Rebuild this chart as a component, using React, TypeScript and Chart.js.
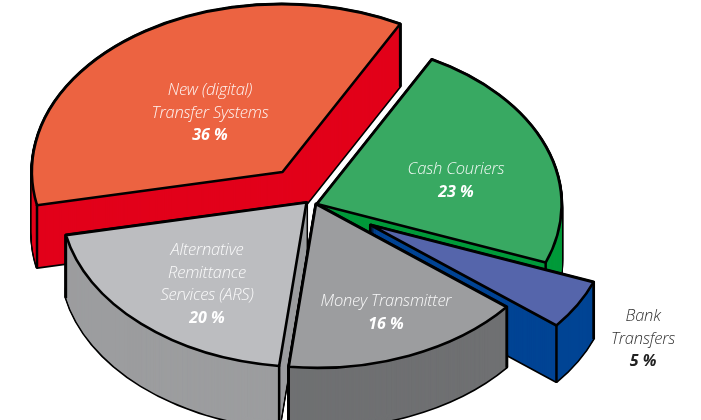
import React, { useEffect, useRef } from "react";
import { Chart, registerables } from "chart.js";

Chart.register(...registerables);

// Data
const categories = ["Cash Couriers", "Bank Transfers", "Money Transmitter", "Alternative Remittance Services (ARS)", "New (digital) Transfer Systems"];
const shares = [23, 5, 16, 20, 36];
const labelLines = [
  ["Cash Couriers"],
  ["Bank", "Transfers"],
  ["Money Transmitter"],
  ["Alternative", "Remittance", "Services (ARS)"],
  ["New (digital)", "Transfer Systems"],
];

// Styles
const topColors = ["#38A962", "#5565AB", "#9C9D9F", "#BCBDC0", "#EC6341"];
const sideColors = ["#009A3A", "#004494", "#6F7072", "#9C9D9F", "#E2001A"];
const textColors = ["rgba(255,255,255,0.92)", "#333333", "rgba(255,255,255,0.92)", "rgba(255,255,255,0.92)", "rgba(255,255,255,0.92)"];
const pctColors = ["#ffffff", "#222222", "#ffffff", "#ffffff", "#ffffff"];
const drawOrder = [4, 0, 1, 3, 2];

// Layout: exploded slice apex shift from the chart centre, radius, view matrix, label anchors
const APEX = [[-33.5, -6], [20, 15], [-34.5, -6], [-44, -7.5], [-68, -38]];
const RADII = [244, 238, 244, 245, 250];
const VIEW = [1, -0.045, 0.07, 0.67];
const DEPTH = [60, 56, 60, 62, 62];
const LABEL_XY = [[456, 174], [643, 321], [386, 306], [207, 255], [210, 95]];
const LINE_H = 22.5;

const pie3d = {
  id: "pie3d",
  beforeDatasetsDraw(chart: any) {
    const ctx = chart.ctx as CanvasRenderingContext2D;
    const arcs = chart.getDatasetMeta(0).data;
    ctx.save();
    ctx.lineJoin = "round";
    ctx.lineCap = "round";
    const path = (a: any, i: number, dy: number) => {
      const { x, y, startAngle, endAngle } = a.getProps(["x", "y", "startAngle", "endAngle"], true);
      ctx.save();
      ctx.translate(x + APEX[i][0], y + APEX[i][1] + dy);
      ctx.transform(VIEW[0], VIEW[1], VIEW[2], VIEW[3], 0, 0);
      ctx.beginPath();
      ctx.moveTo(0, 0);
      ctx.arc(0, 0, RADII[i], startAngle, endAngle);
      ctx.closePath();
      ctx.restore();
    };
    for (const i of drawOrder) {
      const a = arcs[i];
      const depth = DEPTH[i];
      ctx.strokeStyle = "#000";
      ctx.lineWidth = 3.2;
      for (let d = depth; d >= 0; d -= 1) {
        path(a, i, d);
        ctx.stroke();
      }
      ctx.fillStyle = sideColors[i];
      for (let d = depth; d >= 0; d--) {
        path(a, i, d);
        ctx.fill();
      }
      const { x, y, startAngle, endAngle } = a.getProps(["x", "y", "startAngle", "endAngle"], true);
      const ax = x + APEX[i][0];
      const ay = y + APEX[i][1];
      ctx.lineWidth = 2.5;
      for (const t of [startAngle, endAngle]) {
        const ux = RADII[i] * Math.cos(t);
        const uy = RADII[i] * Math.sin(t);
        const px = ax + VIEW[0] * ux + VIEW[2] * uy;
        const py = ay + VIEW[1] * ux + VIEW[3] * uy;
        ctx.beginPath();
        ctx.moveTo(px, py);
        ctx.lineTo(px, py + depth);
        ctx.stroke();
      }
      path(a, i, 0);
      ctx.fillStyle = topColors[i];
      ctx.fill();
      ctx.lineWidth = 2.6;
      ctx.stroke();
    }
    ctx.restore();
    return false;
  },
  afterDraw(chart: any) {
    const ctx = chart.ctx as CanvasRenderingContext2D;
    ctx.save();
    ctx.textAlign = "center";
    ctx.textBaseline = "alphabetic";
    labelLines.forEach((lines, i) => {
      const [lx, ly] = LABEL_XY[i];
      ctx.fillStyle = textColors[i];
      ctx.font = "italic 300 16.5px 'Open Sans'";
      (ctx as any).letterSpacing = "-0.2px";
      lines.forEach((s, k) => ctx.fillText(s, lx, ly + k * LINE_H));
      ctx.fillStyle = pctColors[i];
      ctx.font = "italic 700 16px 'Open Sans'";
      (ctx as any).letterSpacing = "0px";
      ctx.fillText(`${shares[i]} %`, lx, ly + lines.length * LINE_H);
    });
    ctx.restore();
  },
};

export default function App() {
  const ref = useRef<HTMLCanvasElement>(null);
  useEffect(() => {
    const chart = new Chart(ref.current!, {
      type: "pie",
      data: {
        labels: categories,
        datasets: [{ data: shares, backgroundColor: topColors, borderColor: "#000" }],
      },
      options: {
        responsive: false,
        animation: false,
        rotation: 32,
        layout: { padding: 0 },
        plugins: { legend: { display: false }, tooltip: { enabled: false }, title: { display: false } },
      },
      plugins: [pie3d],
    } as any);
    return () => chart.destroy();
  }, []);
  return (
    <div style={{ position: "fixed", left: 0, top: 0, width: 701, height: 420, background: "#fff" }}>
      <canvas ref={ref} width={701} height={420} style={{ display: "block" }} />
    </div>
  );
}
